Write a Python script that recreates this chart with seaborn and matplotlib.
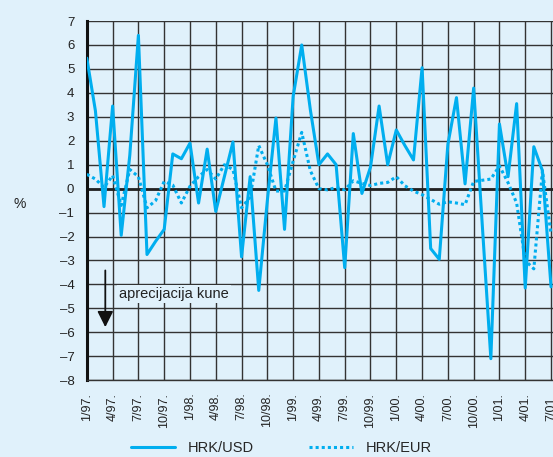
import pandas as pd
import matplotlib.pyplot as plt
import seaborn as sns

# monthly changes, 1/97 .. 7/01
usd = [5.45, 3.25, -0.75, 3.45, -1.95, 1.4, 6.4, -2.75, -2.2, -1.7,
       1.45, 1.25, 1.9, -0.6, 1.65, -0.95, 0.5, 1.95, -2.85, 0.5,
       -4.25, -0.5, 2.95, -1.7, 3.85, 6.0, 3.3, 1.0, 1.45, 1.0,
       -3.3, 2.3, -0.2, 0.9, 3.45, 1.0, 2.45, 1.8, 1.2, 5.05,
       -2.5, -2.95, 1.85, 3.8, 0.2, 4.2, -1.5, -7.1, 2.7, 0.5,
       3.55, -4.15, 1.75, 0.75, -4.1]
eur = [0.6, 0.4, 0.05, 0.55, -0.7, 0.8, 0.5, -0.8, -0.5, 0.3,
       0.15, -0.6, 0.1, 0.5, 0.8, 0.4, 1.0, 0.8, -0.8, -0.35,
       1.8, 1.0, -0.1, -0.1, 1.15, 2.35, 0.75, 0.0, -0.05, 0.05,
       -0.05, 0.33, 0.22, 0.13, 0.22, 0.26, 0.5, 0.12, -0.1, -0.25,
       -0.45, -0.65, -0.55, -0.6, -0.67, 0.3, 0.35, 0.4, 0.95, 0.25,
       -0.6, -3.0, -3.35, 0.75, -1.9]
tick_labels = ['1/97.', '4/97.', '7/97.', '10/97.', '1/98.', '4/98.', '7/98.',
               '10/98.', '1/99.', '4/99.', '7/99.', '10/99.', '1/00.', '4/00.',
               '7/00.', '10/00.', '1/01.', '4/01.', '7/01.']

BG = '#E0F1FB'
BLUE = '#00AEEF'

df = pd.DataFrame({'month': range(len(usd)), 'HRK/USD': usd, 'HRK/EUR': eur})

sns.set_style('white')
plt.rcParams['font.family'] = ['Liberation Sans', 'DejaVu Sans']

fig = plt.figure(figsize=(5.53, 4.57), dpi=100, facecolor=BG)
ax = fig.add_axes([0.157, 0.168, 0.843, 0.786])
ax.set_facecolor(BG)

sns.lineplot(data=df, x='month', y='HRK/USD', ax=ax, color=BLUE, lw=2.2,
             label='HRK/USD', zorder=3)
sns.lineplot(data=df, x='month', y='HRK/EUR', ax=ax, color=BLUE, lw=2.2,
             linestyle=(0, (1, 1)), label='HRK/EUR', zorder=3)

ax.set_xlim(0, 54.23)
ax.set_ylim(-8, 7)
ax.set_xticks(range(0, 55, 3))
ax.set_xticklabels(tick_labels, rotation=90, fontsize=9, color='#222')
ax.set_yticks(range(-8, 8))
ax.set_yticklabels([str(v).replace('-', '\u2013') for v in range(-8, 8)],
                   fontsize=9.5, color='#222')
ax.tick_params(axis='both', length=5, width=1, color='#333', pad=4)
ax.grid(True, color='#333', lw=1)
ax.axhline(0, color='#222', lw=2, zorder=2)
ax.set_xlabel('')
ax.set_ylabel('')

for side in ['top', 'right']:
    ax.spines[side].set_visible(False)
ax.spines['left'].set_linewidth(2.2)
ax.spines['left'].set_color('#111')
ax.spines['bottom'].set_linewidth(1)
ax.spines['bottom'].set_color('#333')

fig.text(0.025, 0.545, '%', fontsize=10, color='#222')

# appreciation arrow and label
ax.annotate('', xy=(2.15, -5.9), xytext=(2.15, -3.3),
            arrowprops=dict(arrowstyle='-|>', color='#111', lw=1.3,
                            mutation_scale=24), zorder=4)
ax.text(3.8, -4.4, 'aprecijacija kune', fontsize=10.5, color='#222', va='center',
        bbox=dict(facecolor=BG, edgecolor='none', pad=1.5), zorder=4)

ax.get_legend().remove()
handles, labels = ax.get_legend_handles_labels()
fig.legend(handles, labels, loc='lower center', bbox_to_anchor=(0.509, -0.025), ncol=2,
           frameon=False, fontsize=10.5, handlelength=3.0, columnspacing=3.8,
           handletextpad=0.9)

fig.savefig('out.png', dpi=100, facecolor=BG)
